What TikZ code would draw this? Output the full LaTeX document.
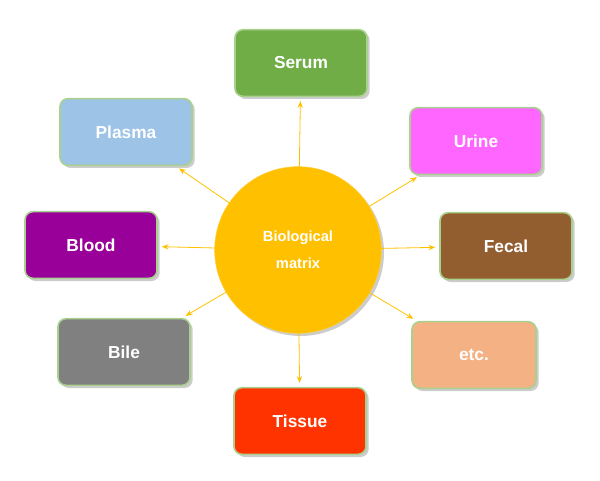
\documentclass[tikz,border=0pt]{standalone}
\usepackage{fontspec}
\setmainfont{Liberation Sans}
\usetikzlibrary{shadows,arrows.meta}
\definecolor{bord}{HTML}{A9D18E}
\definecolor{arr}{HTML}{FFC000}
\begin{document}
\begin{tikzpicture}[x=0.75pt,y=-0.75pt,
  box/.style={draw=bord,line width=1.2pt,rounded corners=6pt,minimum width=99pt,minimum height=50pt,
    text=white,font=\fontsize{13}{15}\selectfont\bfseries,
    drop shadow={shadow xshift=2pt,shadow yshift=-2pt,fill=black!40,opacity=0.5}},
  con/.style={draw=arr,line width=0.6pt,-{Stealth[length=5pt,width=4pt]},shorten >=3pt}]
\useasboundingbox (0,0) rectangle (600,481);
\node[circle,fill=arr,draw=arr!80!white,minimum size=125pt,text=white,align=center,
  font=\fontsize{11}{20}\selectfont\bfseries,
  drop shadow={shadow xshift=2pt,shadow yshift=-2pt,fill=black!40,opacity=0.5}] (c) at (298,250) {Biological\\matrix};
\node[box,fill={rgb,255:red,112;green,173;blue,71}] (serum) at (301,63) {Serum};
\node[box,fill={rgb,255:red,157;green,195;blue,230}] (plasma) at (126,132) {Plasma};
\node[box,fill={rgb,255:red,255;green,102;blue,255}] (urine) at (476,141) {Urine};
\node[box,fill={rgb,255:red,153;green,0;blue,153}] (blood) at (91,245) {Blood};
\node[box,fill={rgb,255:red,146;green,94;blue,48}] (fecal) at (506,246) {Fecal};
\node[box,fill={rgb,255:red,128;green,128;blue,128}] (bile) at (124,352) {Bile};
\node[box,fill={rgb,255:red,244;green,177;blue,131},minimum width=93pt] (etc) at (474,355) {etc.};
\node[box,fill={rgb,255:red,255;green,51;blue,0}] (tissue) at (300,421) {Tissue};
\draw[con] (c) -- (serum);
\draw[con] (c) -- (plasma);
\draw[con] (c) -- (urine);
\draw[con] (c) -- (blood);
\draw[con] (c) -- (fecal);
\draw[con] (c) -- (bile);
\draw[con] (c) -- (etc);
\draw[con] (c) -- (tissue);
\end{tikzpicture}
\end{document}
